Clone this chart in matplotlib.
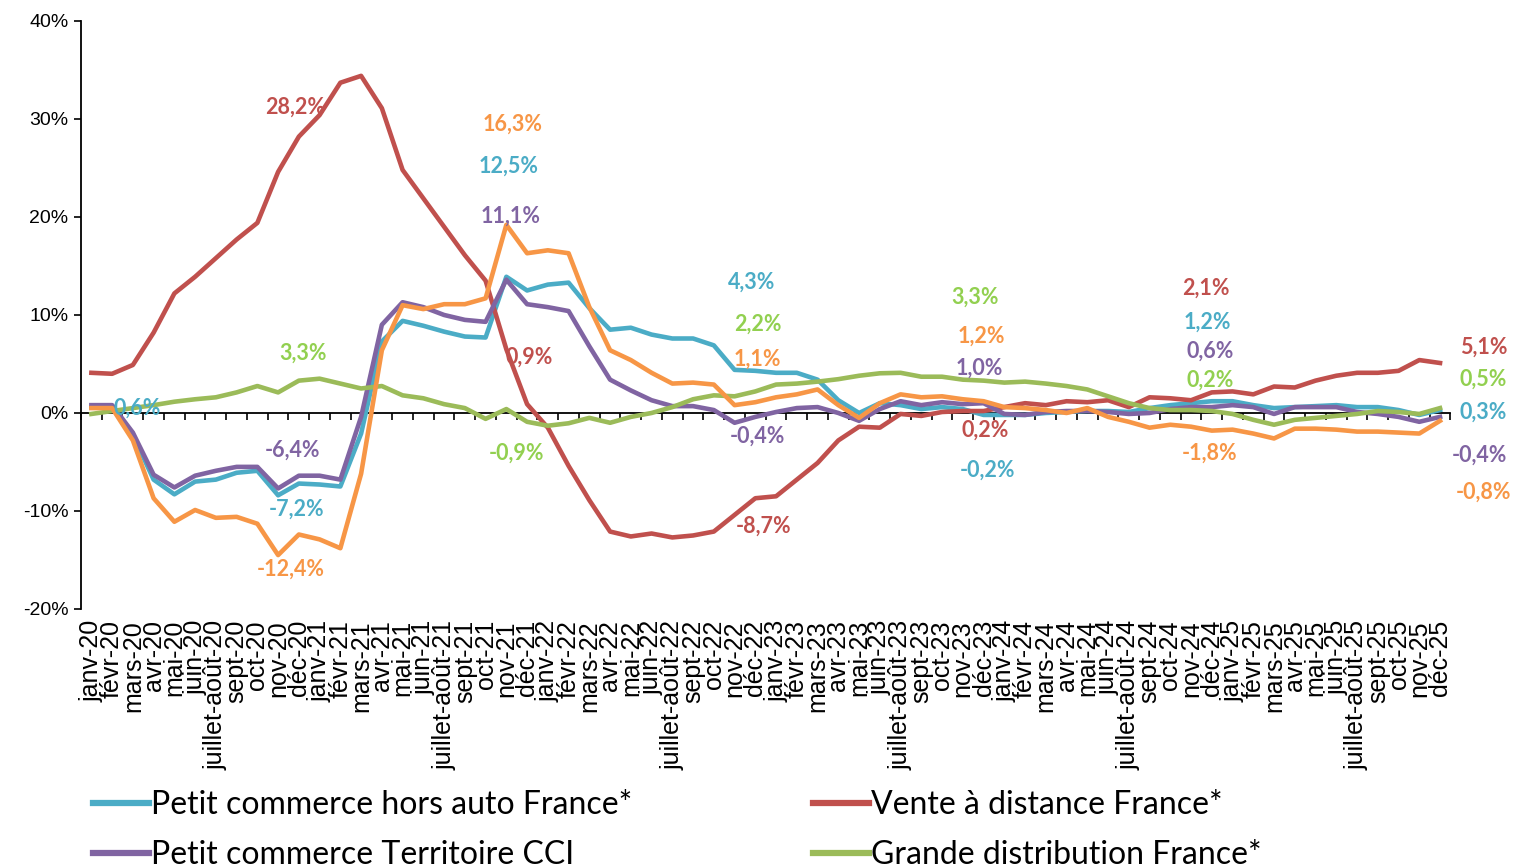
import matplotlib
matplotlib.use("Agg")
import matplotlib.pyplot as plt
from matplotlib.ticker import FuncFormatter
from matplotlib.lines import Line2D
import numpy as np

months = ["janv", "févr", "mars", "avr", "mai", "juin", "juillet-août",
          "sept", "oct", "nov", "déc"]
years = ["20", "21", "22", "23", "24", "25"]
categories = [m + "-" + y for y in years for m in months]

petit_commerce_france = [
    0.6, 0.6, -2.2, -6.8, -8.3, -7.0, -6.8, -6.1, -5.9, -8.4, -7.2,
    -7.3, -7.5, -2.1, 7.3, 9.4, 8.9, 8.3, 7.8, 7.7, 13.9, 12.5,
    13.1, 13.3, 10.7, 8.5, 8.7, 8.0, 7.6, 7.6, 6.9, 4.4, 4.3,
    4.1, 4.1, 3.4, 1.3, 0.0, 1.0, 0.8, 0.4, 0.6, 0.4, -0.2,
    -0.2, -0.2, 0.0, 0.1, 0.2, 0.2, 0.1, 0.5, 0.8, 1.0, 1.2,
    1.2, 0.8, 0.5, 0.6, 0.7, 0.8, 0.6, 0.6, 0.3, -0.2, 0.3]
vente_distance = [
    4.1, 4.0, 4.9, 8.2, 12.2, 13.9, 15.8, 17.7, 19.4, 24.6, 28.2,
    30.4, 33.7, 34.4, 31.1, 24.8, 21.9, 19.0, 16.1, 13.5, 6.5, 0.9,
    -1.5, -5.4, -8.9, -12.1, -12.6, -12.3, -12.7, -12.5, -12.1, -10.4, -8.7,
    -8.5, -6.8, -5.1, -2.8, -1.4, -1.5, -0.1, -0.3, 0.1, 0.2, 0.2,
    0.6, 1.0, 0.8, 1.2, 1.1, 1.3, 0.6, 1.6, 1.5, 1.3, 2.1,
    2.2, 1.9, 2.7, 2.6, 3.3, 3.8, 4.1, 4.1, 4.3, 5.4, 5.1]
petit_commerce_cci = [
    0.8, 0.8, -2.0, -6.3, -7.6, -6.4, -5.9, -5.5, -5.5, -7.7, -6.4,
    -6.4, -6.8, -0.4, 9.0, 11.3, 10.8, 10.0, 9.5, 9.3, 13.6, 11.1,
    10.8, 10.4, 6.8, 3.4, 2.3, 1.3, 0.7, 0.7, 0.3, -1.0, -0.4,
    0.1, 0.5, 0.6, 0.0, -0.8, 0.4, 1.2, 0.8, 1.1, 0.9, 1.0,
    -0.1, -0.2, 0.1, 0.2, 0.2, 0.1, -0.1, 0.0, 0.4, 0.6, 0.6,
    0.8, 0.6, -0.1, 0.6, 0.6, 0.6, 0.1, -0.1, -0.4, -0.9, -0.4]
grande_distribution = [
    -0.1, 0.2, 0.5, 0.8, 1.15, 1.4, 1.6, 2.1, 2.75, 2.1, 3.3,
    3.5, 3.0, 2.5, 2.75, 1.8, 1.5, 0.9, 0.5, -0.6, 0.4, -0.9,
    -1.3, -1.05, -0.5, -1.0, -0.4, 0.0, 0.6, 1.4, 1.8, 1.7, 2.2,
    2.9, 3.0, 3.2, 3.45, 3.8, 4.05, 4.1, 3.7, 3.7, 3.4, 3.3,
    3.1, 3.2, 3.0, 2.75, 2.4, 1.7, 1.0, 0.5, 0.3, 0.3, 0.2,
    -0.1, -0.7, -1.2, -0.7, -0.5, -0.3, -0.1, 0.2, 0.1, -0.1, 0.5]
habillement = [
    0.5, 0.5, -2.8, -8.7, -11.1, -9.9, -10.7, -10.6, -11.3, -14.5, -12.4,
    -12.9, -13.8, -6.2, 6.4, 11.0, 10.6, 11.1, 11.1, 11.7, 19.2, 16.3,
    16.6, 16.3, 10.8, 6.4, 5.4, 4.1, 3.0, 3.1, 2.9, 0.8, 1.1,
    1.6, 1.9, 2.4, 0.8, -0.5, 1.0, 1.9, 1.6, 1.7, 1.4, 1.2,
    0.6, 0.5, 0.3, 0.0, 0.5, -0.4, -0.9, -1.5, -1.2, -1.4, -1.8,
    -1.7, -2.1, -2.6, -1.6, -1.6, -1.7, -1.9, -1.9, -2.0, -2.1, -0.8]

teal = "#4BACC6"
red = "#C0504D"
purple = "#8064A2"
green = "#9BBB59"
orange = "#F79646"

series = [
    ("Petit commerce hors auto France*", petit_commerce_france, teal, teal),
    ("Vente à distance France*", vente_distance, red, red),
    ("Petit commerce Territoire CCI", petit_commerce_cci, purple, purple),
    ("Grande distribution France*", grande_distribution, green, "#92D050"),
    ("Habillement France*", habillement, orange, orange),
]

# data labels: (series index, month index, label x, label y)
labels = [
    (1, 10, 9.8, 31.2), (3, 10, 10.2, 6.1), (2, 10, 9.7, -3.8),
    (0, 10, 9.9, -9.8), (4, 10, 9.6, -15.9), (0, 0, 2.2, 0.5),
    (4, 21, 20.3, 29.5), (0, 21, 20.1, 25.2), (2, 21, 20.2, 20.1),
    (1, 21, 21.1, 5.7), (3, 21, 20.5, -4.1),
    (0, 32, 31.8, 13.3), (3, 32, 32.1, 9.1), (4, 32, 32.1, 5.5),
    (2, 32, 32.1, -2.4), (1, 32, 32.4, -11.6),
    (3, 43, 42.6, 11.8), (4, 43, 42.9, 7.8), (2, 43, 42.8, 4.6),
    (1, 43, 43.1, -1.8), (0, 43, 43.2, -5.8),
    (1, 54, 53.7, 12.7), (0, 54, 53.8, 9.3), (2, 54, 53.9, 6.3),
    (3, 54, 53.9, 3.3), (4, 54, 53.9, -4.1),
    (1, 65, 67.1, 6.7), (3, 65, 67.1, 3.4), (0, 65, 67.1, 0.1),
    (2, 65, 66.9, -4.3), (4, 65, 67.1, -8.1),
]

fig = plt.figure(figsize=(15.14, 8.67), dpi=100)
ax = fig.add_axes([0.0535, 0.2976, 0.9045, 0.6782])

x = np.arange(len(categories))
handles = []
for name, vals, col, lcol in series:
    ax.plot(x, vals, color=col, lw=3.3, solid_joinstyle="round")
    handles.append(Line2D([], [], color=col, lw=4.5, label=name))

for s, i, lx, ly in labels:
    v = series[s][1][i]
    txt = ("%.1f%%" % v).replace(".", ",")
    ax.text(lx, ly, txt, color=series[s][3], fontsize=15.5, fontweight="bold",
            family="Lato", ha="center", va="center")

ax.set_xlim(-0.5, len(categories) - 0.5)
ax.set_ylim(-20, 40)
ax.set_yticks(np.arange(-20, 41, 10))
ax.yaxis.set_major_formatter(FuncFormatter(lambda v, p: "%d%%" % v))
ax.tick_params(axis="y", direction="out", length=5, width=1.2,
               labelsize=14, pad=4)
ax.set_xticks(x)
ax.set_xticklabels(categories, rotation=90, fontsize=18)
ax.tick_params(axis="x", length=0, pad=8)
for lab in ax.get_xticklabels() + ax.get_yticklabels():
    lab.set_family("Liberation Sans")

for sp in ["top", "right", "bottom"]:
    ax.spines[sp].set_visible(False)
ax.spines["left"].set_linewidth(1.3)

zero_axis = ax.secondary_xaxis(1 / 3)
zero_axis.set_xticks(np.arange(-0.5, len(categories), 1.0))
zero_axis.set_xticklabels([])
zero_axis.tick_params(direction="out", length=5, width=1.2)
zero_axis.spines["bottom"].set_linewidth(1.3)

order = [0, 2, 4, 1, 3]
fig.legend([handles[k] for k in order], [series[k][0] for k in order],
           ncol=2, loc="upper left", bbox_to_anchor=(0.0615, 0.0888),
           frameon=False, prop={"family": "Lato", "size": 23},
           handlelength=1.75, handletextpad=0.06, columnspacing=5.67,
           labelspacing=0.64, borderpad=0, borderaxespad=0)

fig.savefig("out.png", dpi=100)
